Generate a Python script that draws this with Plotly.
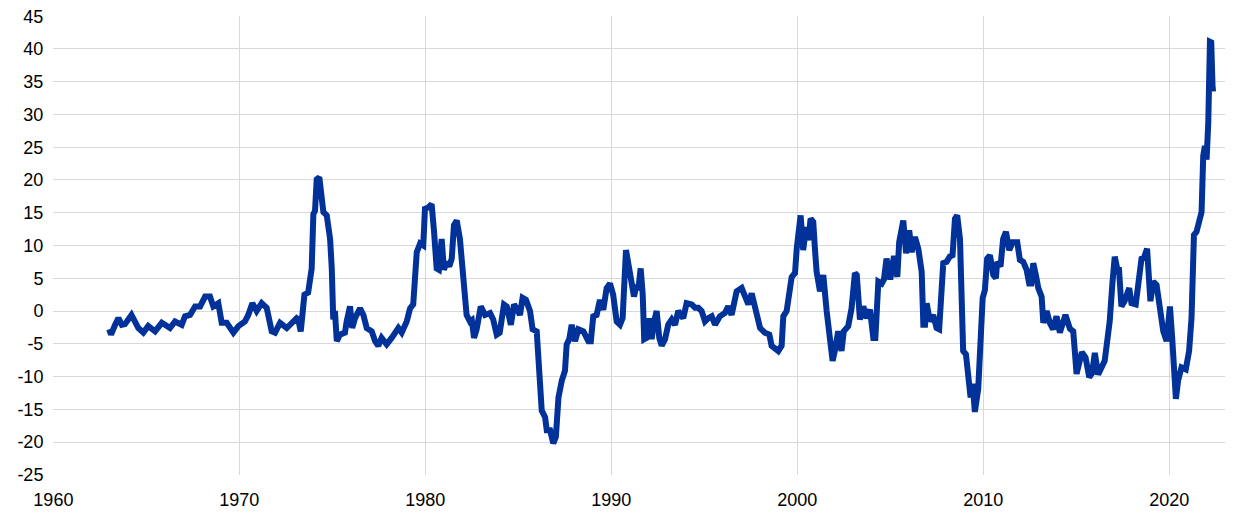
import plotly.graph_objects as go

# Dates as decimal years
dates = [
    1963.0, 1963.1, 1963.32, 1963.5, 1963.68, 1963.85, 1964.2, 1964.57, 1964.84, 1965.1,
    1965.47, 1965.83, 1966.27, 1966.54, 1966.9, 1967.08, 1967.35, 1967.62, 1967.89, 1968.16,
    1968.42, 1968.6, 1968.87, 1969.05, 1969.32, 1969.68, 1969.95, 1970.3, 1970.48, 1970.7,
    1970.93, 1971.2, 1971.47, 1971.74, 1971.92, 1972.19, 1972.55, 1972.9, 1973.08, 1973.17,
    1973.3, 1973.5, 1973.7, 1973.89, 1973.98, 1974.07, 1974.16, 1974.3, 1974.43, 1974.52,
    1974.7, 1974.88, 1974.97, 1975.05, 1975.14, 1975.24, 1975.41, 1975.68, 1975.77, 1975.95,
    1976.07, 1976.22, 1976.49, 1976.67, 1976.85, 1977.12, 1977.3, 1977.47, 1977.65, 1977.92,
    1978.19, 1978.55, 1978.73, 1979.0, 1979.18, 1979.35, 1979.54, 1979.72, 1979.89, 1979.98,
    1980.16, 1980.34, 1980.47, 1980.61, 1980.73, 1980.88, 1981.0, 1981.15, 1981.29, 1981.42,
    1981.54, 1981.69, 1981.86, 1982.04, 1982.13, 1982.22, 1982.4, 1982.5, 1982.62, 1982.76,
    1982.98, 1983.21, 1983.48, 1983.65, 1983.84, 1984.0, 1984.23, 1984.38, 1984.6, 1984.77,
    1984.91, 1985.09, 1985.23, 1985.41, 1985.63, 1985.77, 1985.99, 1986.13, 1986.26, 1986.44,
    1986.53, 1986.71, 1986.88, 1987.02, 1987.16, 1987.34, 1987.51, 1987.6, 1987.74, 1987.87,
    1988.05, 1988.23, 1988.5, 1988.77, 1988.9, 1989.03, 1989.21, 1989.39, 1989.57, 1989.75,
    1989.93, 1990.1, 1990.29, 1990.47, 1990.61, 1990.79, 1990.91, 1991.0, 1991.1, 1991.22,
    1991.36, 1991.45, 1991.58, 1991.69, 1991.77, 1991.9, 1992.04, 1992.17, 1992.3, 1992.44,
    1992.58, 1992.71, 1992.89, 1993.06, 1993.25, 1993.43, 1993.6, 1993.87, 1994.05, 1994.32,
    1994.5, 1994.68, 1994.86, 1995.04, 1995.22, 1995.4, 1995.58, 1995.84, 1996.11, 1996.29,
    1996.47, 1996.74, 1997.01, 1997.19, 1997.37, 1997.55, 1997.73, 1998.0, 1998.26, 1998.5,
    1998.62, 1998.8, 1998.98, 1999.16, 1999.25, 1999.43, 1999.6, 1999.7, 1999.88, 1999.97,
    2000.18, 2000.32, 2000.47, 2000.59, 2000.72, 2000.86, 2000.95, 2001.04, 2001.22, 2001.4,
    2001.58, 2001.76, 2001.9, 2002.02, 2002.2, 2002.38, 2002.5, 2002.74, 2002.92, 2003.1,
    2003.2, 2003.37, 2003.55, 2003.73, 2003.91, 2004.09, 2004.2, 2004.36, 2004.54, 2004.66,
    2004.8, 2005.0, 2005.2, 2005.38, 2005.48, 2005.7, 2005.85, 2006.02, 2006.15, 2006.33,
    2006.51, 2006.69, 2006.78, 2006.87, 2006.96, 2007.13, 2007.31, 2007.49, 2007.63, 2007.85,
    2008.03, 2008.2, 2008.35, 2008.48, 2008.6, 2008.75, 2008.92, 2009.07, 2009.19, 2009.32,
    2009.43, 2009.55, 2009.73, 2009.82, 2009.97, 2010.09, 2010.21, 2010.36, 2010.54, 2010.68,
    2010.75, 2010.93, 2011.07, 2011.22, 2011.4, 2011.58, 2011.83, 2011.97, 2012.15, 2012.33,
    2012.47, 2012.58, 2012.69, 2012.83, 2012.96, 2013.14, 2013.23, 2013.41, 2013.58, 2013.76,
    2013.94, 2014.12, 2014.42, 2014.66, 2014.84, 2015.02, 2015.3, 2015.5, 2015.7, 2015.85,
    2016.0, 2016.18, 2016.36, 2016.53, 2016.71, 2016.8, 2016.94, 2017.07, 2017.2, 2017.3,
    2017.43, 2017.6, 2017.85, 2017.97, 2018.2, 2018.33, 2018.51, 2018.65, 2018.81, 2018.99,
    2019.14, 2019.32, 2019.5, 2019.68, 2019.86, 2020.04, 2020.16, 2020.25, 2020.36, 2020.48,
    2020.66, 2020.89, 2021.07, 2021.2, 2021.33, 2021.47, 2021.61, 2021.74, 2021.83, 2021.92,
    2022.01, 2022.1, 2022.19, 2022.26, 2022.33, 2022.36,
]

values = [
    -2.8, -3.6, -2.1, -1.1, -2.1, -2.0, -0.6, -2.6, -3.3, -2.3,
    -3.1, -1.8, -2.6, -1.6, -2.1, -0.8, -0.6, 0.7, 0.7, 2.2,
    2.2, 0.7, 1.2, -1.8, -1.8, -3.3, -2.3, -1.6, -0.6, 1.2,
    0.0, 1.2, 0.5, -3.1, -3.3, -1.8, -2.6, -1.6, -1.1, -1.3,
    -3.1, 2.5, 2.8, 6.5, 14.8, 15.3, 20.1, 20.4, 18.1, 15.1,
    14.6, 11.0, 6.5, -1.3, 0.0, -4.6, -3.6, -3.3, -1.6, 0.7,
    -2.6, -1.1, 0.4, -0.6, -2.6, -3.1, -4.6, -5.3, -4.1, -5.1,
    -4.1, -2.6, -3.3, -1.6, 0.4, 1.0, 9.0, 10.3, 10.0, 15.6,
    15.8, 16.3, 12.1, 6.5, 6.3, 11.0, 6.3, 7.5, 6.8, 8.0,
    13.1, 13.8, 11.0, 5.5, 4.0, -0.6, -1.6, -1.4, -4.1, -2.8,
    0.7, -0.6, -0.3, -1.3, -3.6, -3.3, 1.0, 0.7, -2.1, 1.0,
    0.4, -0.6, 2.0, 1.7, 0.0, -2.8, -3.1, -10.1, -15.2, -16.2,
    -18.2, -18.2, -20.2, -19.2, -13.2, -10.6, -9.1, -5.1, -4.3, -2.1,
    -4.6, -2.8, -3.1, -4.6, -4.6, -0.8, -0.6, 1.7, 0.2, 3.5,
    4.2, 2.5, -1.6, -2.1, -1.1, 9.3, 7.5, 5.0, 4.7, 2.2,
    4.0, 3.2, 6.5, 2.5, -4.3, -4.1, -1.1, -4.3, -1.6, 0.0,
    -4.1, -5.3, -4.3, -2.1, -1.3, -2.1, 0.0, -1.1, 1.2, 1.0,
    0.5, 0.5, 0.0, -1.6, -1.1, -0.8, -2.1, -0.8, -0.3, 0.7,
    -0.6, 3.0, 3.5, 2.5, 1.0, 2.7, 0.4, -2.6, -3.3, -3.6,
    -5.3, -5.6, -6.1, -5.3, -0.8, 0.0, 3.0, 5.2, 5.8, 9.5,
    14.6, 9.3, 12.8, 10.8, 14.1, 13.6, 9.5, 6.0, 3.0, 5.5,
    0.0, -4.1, -7.6, -6.1, -3.1, -6.1, -3.1, -2.3, 0.4, 5.8,
    5.5, -1.3, 0.7, -1.1, 0.2, -4.1, -4.1, 4.5, 4.2, 4.8,
    8.0, 4.8, 8.4, 5.2, 10.5, 13.8, 8.8, 12.3, 9.0, 11.3,
    9.5, 6.0, -2.1, -2.1, 1.2, -1.6, -0.6, -2.6, -2.8, 7.3,
    7.5, 8.3, 8.5, 14.1, 14.6, 11.0, -6.1, -6.6, -10.1, -13.2,
    -11.1, -15.4, -11.9, -6.1, 2.0, 3.2, 8.0, 8.5, 5.5, 5.0,
    7.5, 6.8, 11.0, 12.1, 9.3, 10.5, 10.5, 7.8, 7.5, 6.3,
    4.2, 4.2, 7.3, 5.5, 3.5, 2.2, -1.8, 0.0, -1.8, -2.8,
    -0.8, -3.3, -0.6, -2.7, -3.1, -9.6, -6.3, -7.1, -10.1, -9.5,
    -6.4, -9.7, -8.6, -7.6, -3.6, -1.6, 4.0, 8.3, 6.5, 6.4,
    0.7, 1.5, 3.5, 1.2, 1.0, 3.5, 8.0, 8.2, 9.5, 1.5,
    4.5, 4.0, 0.0, -3.1, -4.6, 0.7, -4.1, -11.1, -13.4, -10.6,
    -8.6, -8.9, -6.1, -1.1, 11.6, 12.1, 13.6, 15.1, 23.7, 25.2,
    23.1, 28.7, 41.1, 41.0, 34.3, 33.5,
]

x_ticks = [1960, 1970, 1980, 1990, 2000, 2010, 2020]
y_ticks = list(range(-25, 50, 5))

fig = go.Figure()
fig.add_trace(go.Scatter(
    x=dates, y=values, mode="lines",
    line=dict(color="#003299", width=6),
    showlegend=False, hoverinfo="skip",
))

grid = "#d9d9d9"
fig.update_layout(
    width=1240, height=517,
    margin=dict(l=45, r=23, t=8, b=50),
    paper_bgcolor="white", plot_bgcolor="white",
    font=dict(family="Liberation Sans, Arial, sans-serif", size=18, color="#000000"),
    xaxis=dict(
        range=[1959.98, 2023], tickmode="array", tickvals=x_ticks,
        ticktext=[str(t) for t in x_ticks],
        showgrid=True, gridcolor=grid, gridwidth=1,
        zeroline=False, showline=False, automargin=False,
        ticks="outside", ticklen=8, tickcolor="rgba(0,0,0,0)",
        ticklabeloverflow="allow",
    ),
    yaxis=dict(
        range=[-25.03, 45.03], tickmode="array", tickvals=y_ticks,
        ticktext=[str(t) for t in y_ticks],
        showgrid=True, gridcolor=grid, gridwidth=1,
        zeroline=False, showline=False, automargin=False,
        ticks="outside", ticklen=5, tickcolor="rgba(0,0,0,0)",
        ticklabeloverflow="allow",
    ),
)

fig.write_html("out.html")
